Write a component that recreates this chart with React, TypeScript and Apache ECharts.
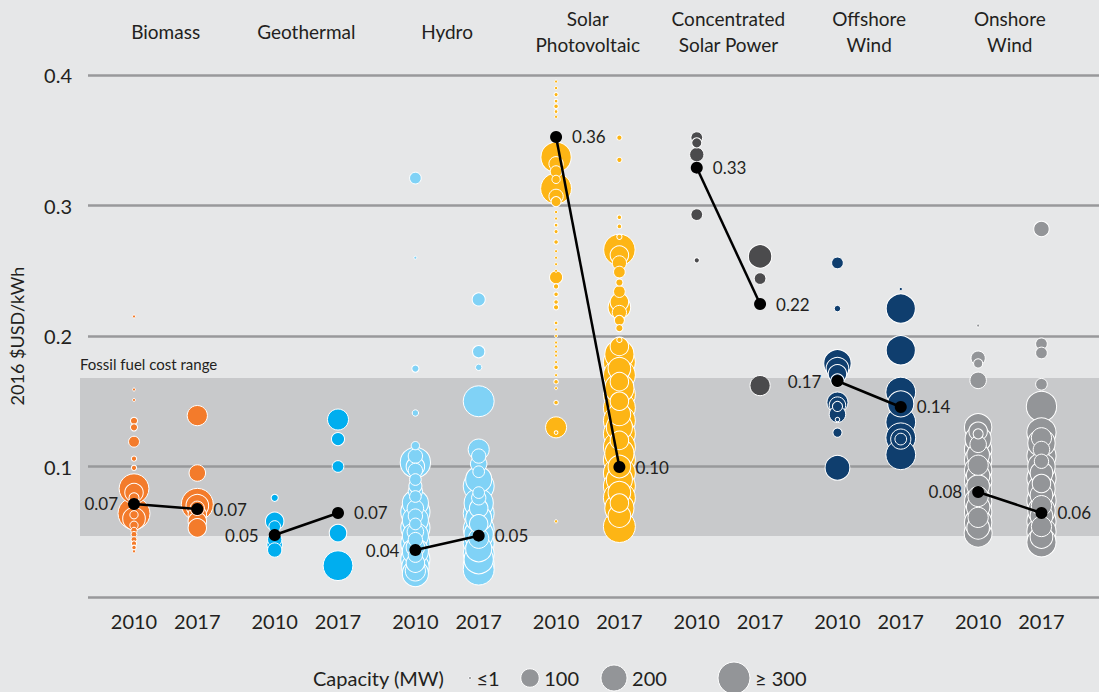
import React, { useEffect, useRef } from 'react';
import * as echarts from 'echarts';

// ---------- DATA ----------
const technologies = ['Biomass', 'Geothermal', 'Hydro', 'Solar\nPhotovoltaic', 'Concentrated\nSolar Power', 'Offshore\nWind', 'Onshore\nWind'];
const years = ['2010', '2017'];
const techColors = ['#f37b2b', '#00aeef', '#80d2f6', '#fdb515', '#4b4b4d', '#0f3e6e', '#939598'];

// [LCOE in 2016 USD/kWh, capacity MW]
const biomass2010 = [[0.215, 1], [0.159, 1], [0.151, 1], [0.135, 15], [0.130, 15], [0.119, 35], [0.106, 8], [0.099, 8], [0.083, 260], [0.080, 100], [0.076, 30], [0.072, 20], [0.064, 300], [0.063, 20], [0.060, 150], [0.055, 20], [0.051, 12], [0.048, 10], [0.044, 10], [0.041, 8], [0.038, 6], [0.035, 3]];
const biomass2017 = [[0.139, 120], [0.095, 80], [0.071, 300], [0.070, 150], [0.068, 60], [0.063, 100], [0.058, 100], [0.053, 100]];
const geothermal2010 = [[0.076, 15], [0.058, 100], [0.054, 40], [0.044, 60], [0.040, 70], [0.036, 60]];
const geothermal2017 = [[0.136, 130], [0.121, 50], [0.100, 40], [0.049, 90], [0.024, 260]];
const hydro2010 = [[0.321, 40], [0.260, 2], [0.175, 15], [0.141, 12], [0.116, 20], [0.108, 60], [0.103, 270], [0.100, 100], [0.097, 60], [0.090, 40], [0.085, 50], [0.081, 60], [0.077, 40], [0.072, 200], [0.068, 80], [0.065, 250], [0.062, 60], [0.059, 200], [0.056, 40], [0.053, 250], [0.050, 80], [0.047, 200], [0.044, 60], [0.041, 250], [0.038, 100], [0.035, 200], [0.032, 60], [0.029, 250], [0.026, 100], [0.023, 220], [0.020, 120], [0.018, 200]];
const hydro2017 = [[0.228, 50], [0.188, 45], [0.176, 12], [0.150, 280], [0.113, 130], [0.108, 60], [0.102, 80], [0.096, 40], [0.090, 200], [0.085, 280], [0.080, 40], [0.076, 60], [0.072, 250], [0.068, 100], [0.064, 280], [0.060, 200], [0.056, 100], [0.052, 280], [0.048, 250], [0.045, 120], [0.041, 280], [0.037, 200], [0.033, 280], [0.029, 250], [0.025, 280], [0.021, 280]];
const solar2010 = [[0.401, 1], [0.395, 2], [0.390, 3], [0.385, 5], [0.380, 4], [0.376, 6], [0.372, 4], [0.368, 3], [0.337, 270], [0.332, 60], [0.326, 40], [0.320, 20], [0.313, 280], [0.307, 60], [0.303, 30], [0.295, 3], [0.290, 1], [0.285, 4], [0.280, 5], [0.272, 6], [0.265, 1], [0.260, 1], [0.255, 1], [0.250, 1], [0.245, 50], [0.238, 8], [0.232, 6], [0.226, 6], [0.222, 8], [0.210, 4], [0.205, 1], [0.200, 1], [0.195, 1], [0.192, 1], [0.188, 1], [0.185, 1], [0.180, 1], [0.176, 6], [0.170, 1], [0.165, 6], [0.160, 1], [0.149, 6], [0.130, 130], [0.126, 4], [0.058, 3]];
const solar2017 = [[0.352, 8], [0.335, 8], [0.291, 6], [0.284, 6], [0.276, 8], [0.266, 290], [0.262, 100], [0.256, 60], [0.249, 40], [0.241, 15], [0.234, 40], [0.226, 100], [0.222, 150], [0.218, 60], [0.212, 30], [0.206, 15], [0.197, 8], [0.192, 100], [0.186, 250], [0.180, 300], [0.175, 150], [0.170, 300], [0.165, 100], [0.160, 250], [0.155, 300], [0.150, 100], [0.145, 300], [0.140, 150], [0.135, 300], [0.130, 200], [0.125, 300], [0.120, 100], [0.115, 300], [0.110, 250], [0.105, 300], [0.100, 150], [0.095, 300], [0.090, 200], [0.085, 300], [0.080, 150], [0.076, 300], [0.072, 100], [0.068, 250], [0.062, 150], [0.054, 300]];
const csp2010 = [[0.352, 40], [0.348, 30], [0.339, 60], [0.293, 40], [0.258, 8]];
const csp2017 = [[0.261, 160], [0.244, 40], [0.162, 120]];
const offshore2010 = [[0.256, 40], [0.221, 12], [0.179, 220], [0.175, 150], [0.171, 100], [0.166, 50], [0.149, 130], [0.147, 80], [0.146, 30], [0.140, 80], [0.136, 6], [0.126, 25], [0.099, 180]];
const offshore2017 = [[0.236, 3], [0.221, 250], [0.189, 250], [0.157, 260], [0.148, 200], [0.134, 260], [0.122, 260], [0.121, 120], [0.121, 40], [0.109, 260]];
const onshore2010 = [[0.208, 1], [0.183, 60], [0.179, 25], [0.166, 80], [0.130, 220], [0.127, 100], [0.125, 30], [0.121, 200], [0.117, 80], [0.113, 220], [0.109, 150], [0.105, 220], [0.101, 120], [0.097, 220], [0.093, 160], [0.089, 220], [0.085, 150], [0.081, 220], [0.077, 120], [0.073, 220], [0.069, 160], [0.065, 220], [0.061, 120], [0.057, 220], [0.053, 150], [0.049, 230]];
const onshore2017 = [[0.282, 70], [0.194, 40], [0.187, 40], [0.163, 40], [0.146, 270], [0.126, 250], [0.122, 120], [0.118, 220], [0.113, 80], [0.108, 250], [0.104, 60], [0.100, 220], [0.095, 150], [0.091, 250], [0.087, 100], [0.083, 220], [0.078, 150], [0.074, 250], [0.070, 120], [0.066, 220], [0.062, 150], [0.058, 250], [0.054, 120], [0.050, 250], [0.046, 150], [0.042, 250]];

const columns = [
  [biomass2010, biomass2017],
  [geothermal2010, geothermal2017],
  [hydro2010, hydro2017],
  [solar2010, solar2017],
  [csp2010, csp2017],
  [offshore2010, offshore2017],
  [onshore2010, onshore2017],
];

const avg2010 = [0.0713, 0.0475, 0.036, 0.3525, 0.329, 0.1655, 0.0805];
const avg2017 = [0.0674, 0.0644, 0.047, 0.0996, 0.2245, 0.1456, 0.0644];
const avgLabels2010 = ['0.07', '0.05', '0.04', '0.36', '0.33', '0.17', '0.08'];
const avgLabels2017 = ['0.07', '0.07', '0.05', '0.10', '0.22', '0.14', '0.06'];
const avgLabelSide2010 = ['left', 'left', 'left', 'right', 'right', 'left', 'left'];

const fossilRange = [0.0467, 0.1678];
const fossilLabel = 'Fossil fuel cost range';
const yAxisName = '2016 $USD/kWh';
const legendTitle = 'Capacity (MW)';
const legendCapacities = [1, 100, 200, 300];
const legendLabels = ['≤1', '100', '200', '≥ 300'];

// ---------- STYLE / LAYOUT ----------
const FONT = 'Lato, "Noto Sans", sans-serif';
const TEXT = '#231f20';
const BG = '#e6e7e8';
const W = 1099;
const H = 692;
const YEAR_OFFSET = 0.45;
const xPos = (g: number, yi: number) => g + yi * YEAR_OFFSET;
const sizeOf = (cap: number) => Math.max(3, 32 * Math.sqrt(Math.min(cap, 300) / 300));

export default function App() {
  const ref = useRef<HTMLDivElement>(null);

  useEffect(() => {
    document.body.style.margin = '0';
    const chart = echarts.init(ref.current!, null, { renderer: 'svg' });

    const bubbleSeries = columns.map((cols, g) => {
      const data: number[][] = [];
      cols.forEach((col, yi) => {
        col.forEach(([v, cap]) => data.push([xPos(g, yi), v, cap]));
      });
      data.sort((a, b) => b[2] - a[2]);
      return {
        type: 'scatter',
        name: technologies[g],
        z: 3,
        data,
        symbolSize: (val: number[]) => sizeOf(val[2]),
        itemStyle: { color: techColors[g], borderColor: '#ffffff', borderWidth: 1, opacity: 1 },
        emphasis: { disabled: true },
      };
    });

    const avgSeries = technologies.map((t, g) => ({
      type: 'line',
      z: 5,
      data: [
        {
          value: [xPos(g, 0), avg2010[g]],
          label: { position: avgLabelSide2010[g], formatter: avgLabels2010[g] },
        },
        {
          value: [xPos(g, 1), avg2017[g]],
          label: { position: 'right', formatter: avgLabels2017[g] },
        },
      ],
      symbol: 'circle',
      symbolSize: 12,
      lineStyle: { color: '#000', width: 2.5 },
      itemStyle: { color: '#000' },
      label: { show: true, distance: 10, fontFamily: FONT, fontSize: 17, color: TEXT },
      emphasis: { disabled: true },
    }));

    const bandSeries = {
      type: 'scatter',
      z: 1,
      data: [],
      markArea: {
        silent: true,
        itemStyle: { color: '#c8c9cb' },
        data: [[{ yAxis: fossilRange[0] }, { yAxis: fossilRange[1] }]],
      },
    };

    chart.setOption({
      animation: false,
      backgroundColor: BG,
      textStyle: { fontFamily: FONT },
      grid: { left: 88, right: 0, top: 75, bottom: 95, containLabel: false },
      xAxis: {
        type: 'value',
        min: -0.327,
        max: 6.859,
        show: false,
      },
      yAxis: {
        type: 'value',
        min: 0,
        max: 0.4,
        interval: 0.1,
        name: yAxisName,
        nameLocation: 'middle',
        nameGap: 62,
        nameTextStyle: { fontFamily: FONT, fontSize: 18, color: TEXT },
        axisLine: { show: false },
        axisTick: { show: false },
        axisLabel: {
          margin: 16,
          fontFamily: FONT,
          fontSize: 20,
          color: TEXT,
          formatter: (v: number) => (v === 0 ? '' : v.toFixed(1)),
        },
        splitLine: { show: true, lineStyle: { color: '#98999b', width: 2.5 } },
        z: 2,
      },
      series: [bandSeries, ...bubbleSeries, ...avgSeries],
    });

    // Texts positioned through the chart's own scales
    const px = (x: number) => chart.convertToPixel({ xAxisIndex: 0 }, x) as number;
    const py = (y: number) => chart.convertToPixel({ yAxisIndex: 0 }, y) as number;
    const graphics: any[] = [];

    technologies.forEach((t, g) => {
      const cx = (px(xPos(g, 0)) + px(xPos(g, 1))) / 2;
      graphics.push({
        type: 'text',
        x: cx,
        y: 31,
        style: {
          text: t,
          fontFamily: FONT,
          fontSize: 19,
          lineHeight: 26,
          fill: TEXT,
          align: 'center',
          verticalAlign: 'middle',
        },
      });
      years.forEach((yr, yi) => {
        graphics.push({
          type: 'text',
          x: px(xPos(g, yi)),
          y: 621,
          style: { text: yr, fontFamily: FONT, fontSize: 20, fill: TEXT, align: 'center', verticalAlign: 'middle' },
        });
      });
    });

    // band extension to the left of the grid
    const bandTop = py(fossilRange[1]);
    const bandBottom = py(fossilRange[0]);
    graphics.push({
      type: 'rect',
      shape: { x: 80, y: bandTop, width: 8, height: bandBottom - bandTop },
      style: { fill: '#c8c9cb' },
      z: -1,
    });
    graphics.push({
      type: 'text',
      x: 80,
      y: bandTop - 14,
      style: { text: fossilLabel, fontFamily: FONT, fontSize: 15, fill: TEXT, align: 'left', verticalAlign: 'middle' },
    });

    // capacity legend
    const ly = 678;
    graphics.push({
      type: 'text',
      x: 313,
      y: ly,
      style: { text: legendTitle, fontFamily: FONT, fontSize: 20, fill: TEXT, align: 'left', verticalAlign: 'middle' },
    });
    const legendX = [470, 530, 614, 734];
    legendCapacities.forEach((cap, i) => {
      const r = sizeOf(cap) / 2;
      graphics.push({
        type: 'circle',
        shape: { cx: legendX[i], cy: ly, r },
        style: { fill: '#939598', stroke: '#ffffff', lineWidth: 1 },
      });
      graphics.push({
        type: 'text',
        x: legendX[i] + r + 5,
        y: ly,
        style: { text: legendLabels[i], fontFamily: FONT, fontSize: 20, fill: TEXT, align: 'left', verticalAlign: 'middle' },
      });
    });

    chart.setOption({ graphic: { elements: graphics } });

    return () => chart.dispose();
  }, []);

  return <div ref={ref} style={{ width: W, height: H }} />;
}
